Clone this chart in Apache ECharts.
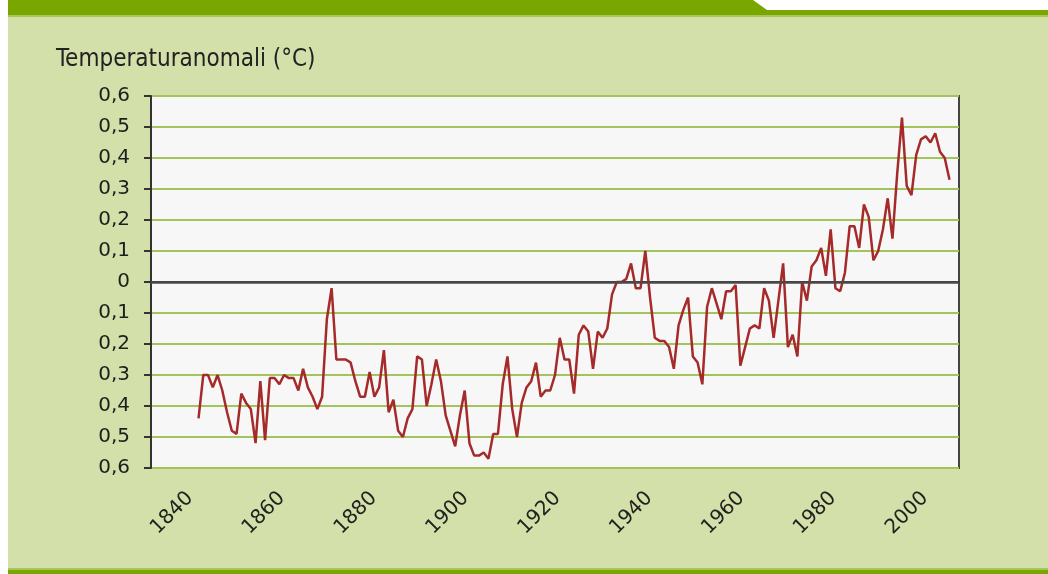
<!DOCTYPE html>
<html><head><meta charset="utf-8">
<script src="https://cdn.jsdelivr.net/npm/echarts@6/dist/echarts.min.js"></script>
<style>html,body{margin:0;padding:0;background:#fff}#c{width:1048px;height:574px}</style>
</head><body><div id="c"></div>
<script>
// Annual global temperature anomaly (°C), 1850-2008
const firstYear = 1850;
const anomalies = [
  -0.44,-0.30,-0.30,-0.34,-0.30,-0.35,-0.42,-0.48,-0.49,-0.36,
  -0.39,-0.41,-0.52,-0.32,-0.51,-0.31,-0.31,-0.33,-0.30,-0.31,
  -0.31,-0.35,-0.28,-0.34,-0.37,-0.41,-0.37,-0.12,-0.02,-0.25,
  -0.25,-0.25,-0.26,-0.32,-0.37,-0.37,-0.29,-0.37,-0.34,-0.22,
  -0.42,-0.38,-0.48,-0.50,-0.44,-0.41,-0.24,-0.25,-0.40,-0.33,
  -0.25,-0.32,-0.43,-0.48,-0.53,-0.43,-0.35,-0.52,-0.56,-0.56,
  -0.55,-0.57,-0.49,-0.49,-0.33,-0.24,-0.41,-0.50,-0.39,-0.34,
  -0.32,-0.26,-0.37,-0.35,-0.35,-0.30,-0.18,-0.25,-0.25,-0.36,
  -0.17,-0.14,-0.16,-0.28,-0.16,-0.18,-0.15,-0.04,0.00,0.00,
  0.01,0.06,-0.02,-0.02,0.10,-0.05,-0.18,-0.19,-0.19,-0.21,
  -0.28,-0.14,-0.09,-0.05,-0.24,-0.26,-0.33,-0.08,-0.02,-0.07,
  -0.12,-0.03,-0.03,-0.01,-0.27,-0.21,-0.15,-0.14,-0.15,-0.02,
  -0.06,-0.18,-0.06,0.06,-0.21,-0.17,-0.24,0.00,-0.06,0.05,
  0.07,0.11,0.02,0.17,-0.02,-0.03,0.03,0.18,0.18,0.11,
  0.25,0.21,0.07,0.10,0.17,0.27,0.14,0.35,0.53,0.31,
  0.28,0.41,0.46,0.47,0.45,0.48,0.42,0.40,0.33
];
const xTickLabels = [1840, 1860, 1880, 1900, 1920, 1940, 1960, 1980, 2000];
const titleText = 'Temperaturanomali (°C)';

const chart = echarts.init(document.getElementById('c'), null, {renderer: 'canvas'});
const seriesData = anomalies.map((v, i) => [firstYear + i, v]);
const fmtY = v => Math.abs(v) < 1e-9 ? '0' : Math.abs(v).toFixed(1).replace('.', ',');

const option = {
  animation: false,
  backgroundColor: '#d3e0a9',
  title: {
    text: titleText, left: 51, top: 43,
    textStyle: {fontFamily: '"DejaVu Sans Condensed", "Liberation Sans Narrow", "DejaVu Sans"', fontSize: 24, fontWeight: 'normal', color: '#222'}
  },
  grid: {
    left: 151, top: 96, right: 89, bottom: 106,
    show: true, backgroundColor: '#f7f7f7', borderColor: '#444', borderWidth: 2
  },
  xAxis: [
    {
      type: 'value', min: 1840, max: 2010,
      axisLine: {show: true, lineStyle: {color: '#333', width: 2}},
      axisTick: {show: false}, axisLabel: {show: false}, splitLine: {show: false}
    },
    {
      type: 'value', position: 'bottom', min: 1831.5, max: 2007.4,
      axisLine: {show: false}, axisTick: {show: false}, splitLine: {show: false},
      axisLabel: {
        customValues: xTickLabels, rotate: 45, margin: 27,
        fontFamily: '"DejaVu Sans"', fontSize: 20, color: '#222',
        formatter: v => String(v)
      }
    }
  ],
  yAxis: {
    type: 'value', min: -0.6, max: 0.6, interval: 0.1,
    axisLine: {show: true, lineStyle: {color: '#333', width: 2}},
    axisTick: {show: true, length: 7, lineStyle: {color: '#333', width: 2}},
    axisLabel: {margin: 21, fontFamily: '"DejaVu Sans"', fontSize: 20, color: '#1e1e1e', formatter: fmtY},
    splitLine: {show: true, lineStyle: {color: '#a3c45a', width: 2}}
  },
  series: [{
    type: 'line', data: seriesData, xAxisIndex: 0, yAxisIndex: 0,
    showSymbol: false, symbol: 'none',
    lineStyle: {color: '#a52a2a', width: 2.5},
    markLine: {
      silent: true, symbol: 'none', label: {show: false},
      lineStyle: {color: '#4a4a4a', width: 2.5, type: 'solid'},
      data: [{yAxis: 0}]
    },
    z: 3
  }],
  graphic: [
    {type: 'rect', shape: {x: 0, y: 0, width: 8, height: 574}, style: {fill: '#ffffff'}},
    {type: 'rect', shape: {x: 8, y: 0, width: 1040, height: 15}, style: {fill: '#7aa600'}},
    {type: 'rect', shape: {x: 8, y: 15, width: 1040, height: 2}, style: {fill: '#a9c65a'}},
    {type: 'polygon', shape: {points: [[753, 0], [1048, 0], [1048, 10], [767, 10]]}, style: {fill: '#ffffff'}},
    {type: 'rect', shape: {x: 8, y: 568, width: 1040, height: 2}, style: {fill: '#a9c65a'}},
    {type: 'rect', shape: {x: 8, y: 570, width: 1040, height: 4}, style: {fill: '#7aa600'}}
  ]
};
chart.setOption(option);
</script>
</body></html>
